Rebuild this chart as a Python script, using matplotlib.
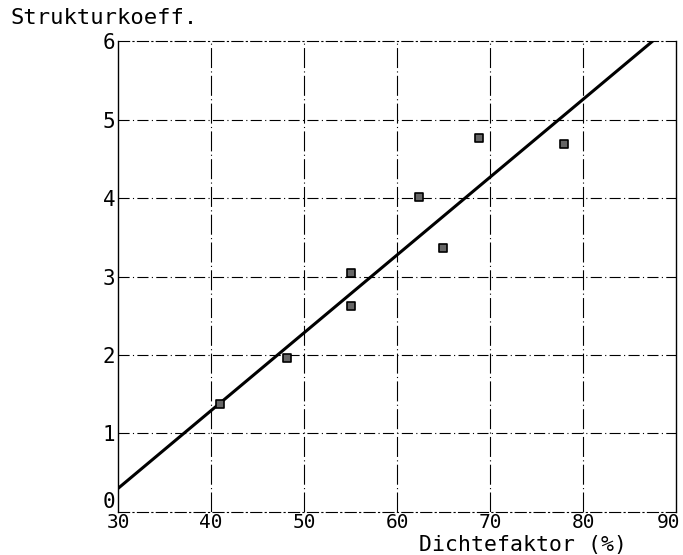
import numpy as np
import matplotlib
matplotlib.use('Agg')
import matplotlib.pyplot as plt
from matplotlib.transforms import ScaledTranslation

# measured points (Dichtefaktor %, Strukturkoeff.)
dichte = [41.0, 48.2, 55.0, 55.0, 62.4, 64.9, 68.8, 78.0]
struktur = [1.38, 1.96, 3.05, 2.62, 4.01, 3.36, 4.76, 4.69]

# regression line end points
fit_x = [30, 87.5]
fit_y = [0.30, 6.0]

x_ticks = [30, 40, 50, 60, 70, 80, 90]
y_ticks = [0, 1, 2, 3, 4, 5, 6]

plt.rcParams['font.family'] = ['DejaVu Sans Mono']

fig = plt.figure(figsize=(6.83, 5.55), dpi=100)
ax = fig.add_axes([0.1728, 0.0775, 0.8170, 0.8486])

ax.set_xlim(30, 90)
ax.set_ylim(0, 6)
ax.set_xticks(x_ticks)
ax.set_yticks(y_ticks)
ax.tick_params(length=0, labelsize=15, pad=2)
ax.tick_params(axis='x', labelsize=14, pad=1)

# grid in plotter style
for xv in x_ticks[1:-1]:
    ax.axvline(xv, color='black', lw=0.8, ls=(0, (18, 3, 1, 3)), zorder=1)
for yv in y_ticks[1:-1]:
    ax.axhline(yv, color='black', lw=0.8, ls=(0, (10, 3, 1, 3)), zorder=1)

for side in ['top', 'bottom']:
    ax.spines[side].set_linestyle((0, (10, 3, 1, 3)))
    ax.spines[side].set_linewidth(0.8)
for side in ['left', 'right']:
    ax.spines[side].set_linewidth(1.0)

ax.plot(fit_x, fit_y, color='black', lw=2.2, zorder=3)
ax.scatter(dichte, struktur, marker='s', s=28, facecolor='#666666',
           edgecolor='black', linewidths=1.2, zorder=4)

# "0" sits above the 30 label, "90" pulled in from the edge
ax.get_yticklabels()[0].set_va('bottom')
lab90 = ax.get_xticklabels()[-1]
lab90.set_transform(lab90.get_transform() + ScaledTranslation(-8 / 100, 0, fig.dpi_scale_trans))

fig.text(10 / 683, 1 - 18 / 555, 'Strukturkoeff.', fontsize=16, ha='left', va='center')
fig.text(523 / 683, 1 - 551 / 555, 'Dichtefaktor (%)', fontsize=15.5, ha='center', va='baseline')

fig.savefig('out.png', dpi=100)
